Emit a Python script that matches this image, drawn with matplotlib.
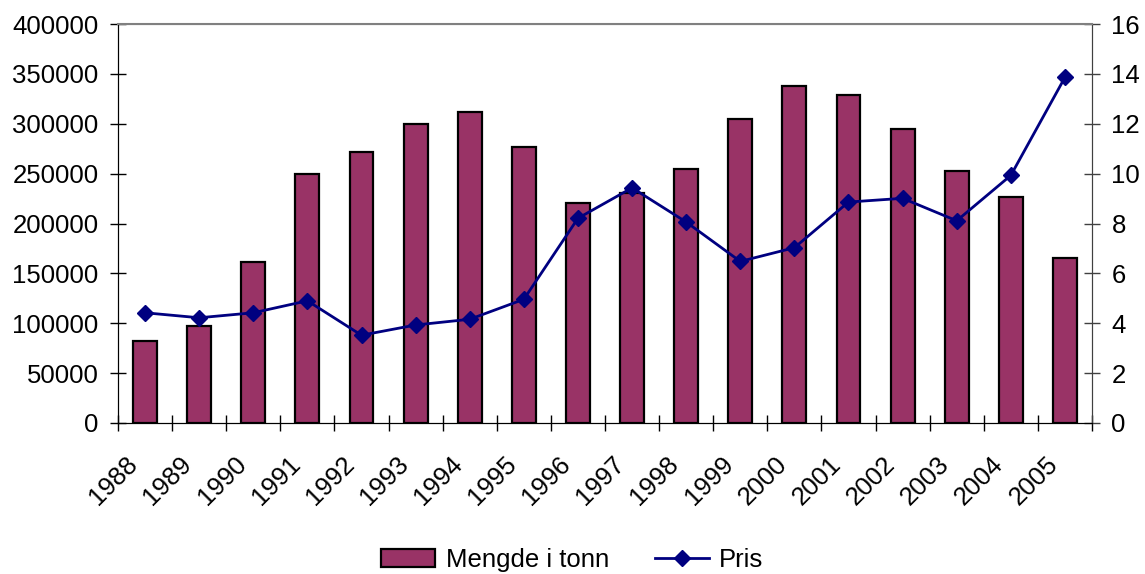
import matplotlib.pyplot as plt
import numpy as np
from matplotlib.ticker import FixedLocator, NullFormatter
from matplotlib.transforms import ScaledTranslation

plt.rcParams["font.family"] = ["Liberation Sans", "DejaVu Sans"]

years = [str(y) for y in range(1988, 2006)]
mengde = [82000, 97500, 161500, 250000, 271500, 300000, 312000, 277000, 221000,
          231000, 255000, 305000, 338000, 329000, 295000, 253000, 227000, 165000]
pris = [4.42, 4.22, 4.42, 4.90, 3.52, 3.93, 4.16, 4.96, 8.21,
        9.43, 8.06, 6.48, 7.03, 8.86, 9.01, 8.11, 9.93, 13.86]

fs = 18.5
x = np.arange(len(years))

fig = plt.figure(figsize=(11.45, 5.74), dpi=100)
ax = fig.add_axes([118 / 1145, 1 - 423 / 574, (1092 - 118) / 1145, (423 - 24) / 574])
ax2 = ax.twinx()

bars = ax.bar(x, mengde, width=0.44, color="#993366", edgecolor="black",
              linewidth=1.6, label="Mengde i tonn", zorder=2)
line, = ax2.plot(x, pris, color="#000080", linewidth=2.0, marker="D",
                 markersize=8, label="Pris", zorder=3)

ax.set_xlim(-0.5, len(years) - 0.5)
ax.set_ylim(0, 400000)
ax.set_yticks(np.arange(0, 400001, 50000))
ax2.set_ylim(0, 16)
ax2.set_yticks(np.arange(0, 17, 2))

# category boundaries get the tick marks, labels sit at the centres
ax.xaxis.set_major_locator(FixedLocator(np.arange(-0.5, len(years), 1.0)))
ax.xaxis.set_major_formatter(NullFormatter())
ax.xaxis.set_minor_locator(FixedLocator(x))
ax.set_xticklabels(years, minor=True, rotation=45, ha="right",
                   va="center", rotation_mode="anchor", fontsize=fs)
ax.tick_params(axis="x", which="minor", length=0, pad=27)
ax.tick_params(axis="x", which="major", direction="inout", length=12, width=1)
ax.tick_params(axis="y", direction="inout", length=12, width=1, labelsize=fs, pad=8)
ax2.tick_params(axis="y", direction="inout", length=12, width=1, labelsize=fs, pad=8)

shift = ScaledTranslation(-0.11, 0, fig.dpi_scale_trans)
for lab in ax.get_xticklabels(minor=True):
    lab.set_transform(lab.get_transform() + shift)

for a in (ax, ax2):
    a.spines["top"].set_color("#808080")
    a.spines["left"].set_color("black")
    a.spines["bottom"].set_color("black")
    a.spines["right"].set_color("#404040")
ax2.spines["top"].set_linewidth(1.5)
ax2.tick_params(axis="y", colors="#404040", labelcolor="black")

fig.legend(handles=[bars, line], loc="center", bbox_to_anchor=(0.5, 1 - 560 / 574),
           ncol=2, frameon=False, fontsize=fs, handlelength=2.1,
           handletextpad=0.4, columnspacing=1.8)

fig.savefig("out.png", dpi=100)
